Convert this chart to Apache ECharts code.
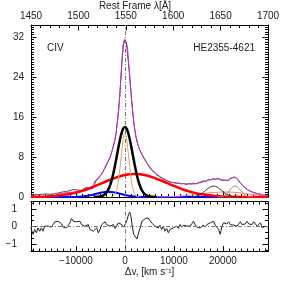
<!DOCTYPE html>
<html><head><meta charset="utf-8">
<script src="https://cdn.jsdelivr.net/npm/echarts@6/dist/echarts.min.js"></script>
<style>html,body{margin:0;padding:0;background:#fff}#c{width:283px;height:283px}</style>
</head><body><div id="c"></div>
<script>
// ---- axis constants ----
const C_KMS = 299792.458, LAM0 = 1549.06;
const LAM_MIN = 1450, LAM_MAX = 1700;
const V_MIN = C_KMS * (LAM_MIN - LAM0) / LAM0;
const V_MAX = C_KMS * (LAM_MAX - LAM0) / LAM0;
const FLUX_MAX = 34.4;
const RES_LIM = 1.43;

// ---- tick labels ----
const velTicks = [-10000, 0, 10000, 20000];
const fluxTicks = [0, 8, 16, 24, 32];
const resTicks = [-1, 0, 1];
const lamTicks = [1450, 1500, 1550, 1600, 1650, 1700];

// ---- data: [velocity km/s, value] ----
const specData = [[-19171,0.35],[-18800,0.2],[-18400,0.45],[-18000,0.3],[-17600,0.5],[-17200,0.35],[-16800,0.55],[-16400,0.4],[-16000,0.6],[-15600,0.45],[-15200,0.55],[-14800,0.4],[-14400,0.65],[-14000,0.55],[-13600,0.8],[-13200,0.7],[-12800,1.0],[-12400,0.85],[-12000,1.1],[-11600,0.9],[-11200,1.3],[-10800,1.1],[-10400,1.5],[-10000,1.2],[-9600,1.4],[-9200,1.7],[-8800,1.3],[-8400,1.6],[-8000,1.9],[-7600,2.3],[-7300,1.8],[-7000,2.0],[-6600,1.7],[-6200,2.6],[-5800,3.4],[-5400,3.8],[-5000,4.3],[-4600,4.9],[-4200,5.6],[-3800,6.5],[-3400,7.2],[-3000,8.1],[-2600,9.3],[-2200,10.8],[-1800,12.8],[-1500,15.5],[-1200,18.5],[-900,22.5],[-600,27.0],[-300,30.5],[0,31.4],[300,30.8],[600,28.0],[900,25.0],[1200,21.5],[1500,18.0],[1800,15.0],[2200,12.2],[2600,10.6],[3000,9.5],[3500,8.5],[4000,7.5],[4500,6.8],[5000,6.0],[5500,5.3],[6000,4.9],[6500,4.4],[7000,4.1],[7500,3.8],[8000,3.5],[8500,3.3],[9000,3.1],[9500,2.9],[10000,2.9],[10500,2.7],[11000,2.8],[11500,2.6],[12000,2.7],[12500,2.5],[13000,2.7],[13500,2.6],[14000,2.8],[14500,2.6],[15000,2.9],[15500,3.0],[16000,3.2],[16500,3.1],[17000,3.5],[17500,3.4],[18000,3.7],[18500,3.5],[19000,3.8],[19500,3.4],[20000,3.3],[20500,3.4],[21000,3.3],[21500,3.7],[22000,3.9],[22500,4.0],[23000,3.6],[23500,2.9],[24000,2.3],[24500,1.9],[25000,1.5],[25500,1.2],[26000,1.0],[26500,0.8],[27000,0.7],[27500,0.6],[28000,0.4],[28500,0.35],[29000,0.3],[29212,0.2]];

const modelData = [[-13700,0.6],[-13000,0.7],[-12000,0.85],[-11000,0.95],[-10000,1.05],[-9000,1.2],[-8000,1.35],[-7000,1.6],[-6300,1.9],[-6250,3.0],[-5500,3.6],[-4800,4.5],[-4400,5.2],[-3700,6.5],[-3000,8.0],[-2500,9.6],[-2000,11.5],[-1600,14.3],[-1300,17.0],[-1100,19.5],[-850,23.3],[-600,27.5],[-400,30.2],[-200,31.3],[0,31.6],[200,31.2],[500,30.0],[800,26.5],[1070,23.0],[1350,19.5],[1650,16.5],[2000,13.6],[2450,11.3],[3000,9.4],[3800,8.0],[4500,6.9],[5000,6.1],[6000,5.0],[7000,4.2],[8000,3.6],[9200,3.05],[10500,2.8],[12000,2.65],[13500,2.6],[14700,2.7],[15500,2.9],[16400,3.2],[17400,3.45],[18400,3.6],[19200,3.6],[20000,3.4],[20600,3.3],[21500,3.6],[22300,3.9],[22800,3.7],[23600,2.7],[24500,1.9],[25300,1.3],[26300,0.9],[27400,0.6],[28300,0.4],[29212,0.3]];

const broadBlackData = [[-6400,0],[-5600,0.03],[-4800,0.16],[-4400,0.32],[-4000,0.61],[-3600,1.11],[-3200,1.89],[-2800,3.03],[-2400,4.55],[-2000,6.41],[-1600,8.49],[-1200,10.57],[-800,12.36],[-400,13.57],[0,14.0],[400,13.57],[800,12.36],[1200,10.57],[1600,8.49],[2000,6.41],[2400,4.55],[2800,3.03],[3200,1.89],[3600,1.11],[4000,0.61],[4400,0.32],[4800,0.16],[5600,0.03],[6400,0]];

const narrowData = [[-3200,0],[-2800,0.03],[-2400,0.14],[-2200,0.29],[-2000,0.56],[-1800,1.01],[-1600,1.72],[-1400,2.75],[-1200,4.13],[-1000,5.82],[-800,7.70],[-600,9.59],[-400,11.21],[-200,12.31],[0,12.7],[200,12.31],[400,11.21],[600,9.59],[800,7.70],[1000,5.82],[1200,4.13],[1400,2.75],[1600,1.72],[1800,1.01],[2000,0.56],[2200,0.29],[2400,0.14],[2800,0.03],[3200,0]];

const redData = [[-19171,0.03],[-17000,0.07],[-16000,0.11],[-15000,0.17],[-14000,0.24],[-13000,0.35],[-12000,0.48],[-11000,0.66],[-10000,0.88],[-9000,1.15],[-8000,1.46],[-7000,1.82],[-6000,2.21],[-5000,2.62],[-4000,3.05],[-3000,3.45],[-2000,3.83],[-1000,4.15],[0,4.39],[1000,4.55],[2000,4.6],[3000,4.55],[4000,4.39],[5000,4.15],[6000,3.83],[7000,3.45],[8000,3.05],[9000,2.62],[10000,2.21],[11000,1.82],[12000,1.46],[13000,1.15],[14000,0.88],[15000,0.66],[16000,0.48],[17000,0.35],[18000,0.24],[19000,0.17],[20000,0.11],[21000,0.07],[22000,0.05],[24000,0.02],[26000,0.01],[29212,0]];

const blueData = [[-19171,0],[-12400,0],[-11400,0.01],[-10400,0.02],[-9400,0.06],[-8400,0.14],[-7400,0.29],[-6400,0.51],[-5400,0.76],[-4400,0.97],[-3400,1.05],[-2400,0.97],[-1400,0.76],[-400,0.51],[600,0.29],[1600,0.14],[2600,0.06],[3600,0.02],[4600,0.01],[5600,0],[29212,0]];

const heiiData = [[13300,0],[14100,0.1],[14500,0.17],[14900,0.30],[15300,0.48],[15700,0.71],[16100,1.01],[16500,1.33],[16900,1.66],[17300,1.94],[17700,2.13],[18100,2.2],[18500,2.13],[18900,1.94],[19300,1.66],[19700,1.33],[20100,1.01],[20500,0.71],[20900,0.48],[21300,0.30],[21700,0.17],[22100,0.10],[22900,0.02],[23700,0]];

const oliveData = [[18900,0.01],[19500,0.05],[19800,0.11],[20100,0.20],[20400,0.36],[20700,0.58],[21000,0.87],[21300,1.21],[21600,1.58],[21900,1.90],[22200,2.12],[22500,2.2],[22800,2.12],[23100,1.90],[23400,1.58],[23700,1.21],[24000,0.87],[24300,0.58],[24600,0.36],[24900,0.20],[25200,0.11],[25500,0.05],[26100,0.01]];

const pinkData = [[6500,0.02],[8500,0.06],[10500,0.14],[11500,0.2],[12500,0.28],[13500,0.38],[14500,0.49],[15500,0.61],[16500,0.73],[17500,0.84],[18500,0.92],[19500,0.98],[20500,1.0],[21500,0.98],[22500,0.92],[23500,0.84],[24500,0.73],[25500,0.61],[26500,0.49],[27500,0.38],[28500,0.28],[29212,0.22]];

const residData = [[-19171,0.02],[-19101,-0.17],[-18759,-0.45],[-18417,-0.17],[-18075,-0.36],[-17733,-0.08],[-17391,-0.27],[-17049,-0.08],[-16707,-0.27],[-16365,0.02],[-16023,-0.08],[-15681,0.02],[-15339,0.06],[-14997,-0.04],[-14655,0.11],[-14313,0.27],[-13971,0.19],[-13629,0.30],[-13287,0.21],[-12945,0.15],[-12603,-0.04],[-12261,0.06],[-11919,-0.08],[-11577,0.02],[-11235,0.21],[-10893,0.45],[-10551,0.30],[-10209,0.40],[-9867,0.27],[-9525,0.21],[-9183,0.30],[-8841,0.11],[-8499,0.15],[-8157,0.02],[-7815,-0.08],[-7473,0.11],[-7131,-0.17],[-6789,-0.08],[-6447,-0.27],[-6105,-0.17],[-5763,-0.08],[-5421,-0.36],[-5079,-0.17],[-4737,0.11],[-4395,0.15],[-4053,0.27],[-3711,0.11],[-3369,0.21],[-3027,0.02],[-2685,0.02],[-2343,0.11],[-2001,-0.11],[-1659,-0.04],[-1317,0.21],[-975,0.30],[-633,0.11],[-291,-0.04],[51,0.11],[400,0.35],[750,0.7],[1000,0.82],[1250,0.55],[1500,0.0],[1800,-0.45],[2100,-0.55],[2450,-0.72],[2800,-0.36],[3130,-0.08],[3470,0.30],[3810,0.40],[4150,0.45],[4500,0.42],[4758,0.49],[5100,0.40],[5442,0.21],[5784,0.27],[6126,0.02],[6468,0.11],[6810,-0.08],[7152,0.08],[7494,-0.17],[7836,0.02],[8178,-0.27],[8520,-0.11],[8862,-0.36],[9204,-0.17],[9546,-0.27],[9888,-0.08],[10230,-0.17],[10572,0.02],[10914,-0.11],[11256,0.11],[11598,-0.04],[11940,0.08],[12282,0.15],[12624,0.02],[12966,0.11],[13308,0.02],[13650,0.15],[13992,0.30],[14334,0.11],[14676,-0.04],[15018,0.02],[15360,-0.08],[15702,-0.04],[16044,0.08],[16386,-0.04],[16728,0.11],[17070,0.02],[17412,0.21],[17754,0.11],[18096,0.30],[18438,0.08],[18780,-0.04],[19122,-0.17],[19464,-0.45],[19806,0.02],[20148,0.21],[20490,0.30],[20832,0.15],[21174,0.27],[21516,0.11],[21858,0.21],[22200,0.08],[22542,0.15],[22884,0.02],[23226,0.11],[23568,0.27],[23910,0.11],[24252,0.02],[24594,0.15],[24936,0.30],[25278,0.15],[25620,0.21],[25962,0.11],[26304,0.27],[26646,0.15],[26988,0.02],[27330,0.11],[27672,0.21],[28014,-0.08],[28356,-0.17],[28698,0.02],[29040,-0.08],[29212,-0.04]];

// ---- tick position helpers (axis decoration only) ----
function steps(a, b, s, skip) {
  const out = [];
  for (let v = Math.ceil(a / s - 1e-9) * s; v <= b + 1e-9; v += s) {
    const r = Math.round(v * 1000) / 1000;
    if (!skip || skip.indexOf(r) < 0) out.push(r);
  }
  return out;
}
const velMinor = steps(V_MIN, V_MAX, 1250, velTicks);
const resMinor = steps(-RES_LIM, RES_LIM, 1 / 3, resTicks);

const FONT = 'Liberation Sans';
const TXT = '#222';
const AX = '#000';
const MAJ = 5.5, MIN = 3;
const minus = v => String(v).replace('-', '\u2212');

function vAxis(grid, pos, opts) {
  return Object.assign({
    gridIndex: grid, type: 'value', position: pos, min: V_MIN, max: V_MAX,
    axisLine: { show: true, onZero: false, lineStyle: { color: AX, width: 1 } },
    axisTick: { show: true, inside: true, length: MAJ, customValues: velTicks, lineStyle: { color: AX } },
    axisLabel: { show: false }, splitLine: { show: false }
  }, opts || {});
}
function vMinorAxis(grid, pos) {
  return {
    gridIndex: grid, type: 'value', position: pos, min: V_MIN, max: V_MAX,
    axisLine: { show: false, onZero: false },
    axisTick: { show: true, inside: true, length: MIN, customValues: velMinor, lineStyle: { color: AX } },
    axisLabel: { show: false }, splitLine: { show: false }
  };
}
function fluxAxis(pos, labels) {
  return {
    gridIndex: 0, type: 'value', position: pos, min: 0, max: FLUX_MAX, interval: 8,
    axisLine: { show: true, onZero: false, lineStyle: { color: AX, width: 1 } },
    axisTick: { show: true, inside: true, length: MAJ, lineStyle: { color: AX } },
    minorTick: { show: true, splitNumber: 16, length: MIN, lineStyle: { color: AX } },
    axisLabel: { show: labels, showMaxLabel: false, fontFamily: FONT, fontSize: 10, color: TXT, margin: 7 },
    splitLine: { show: false }, minorSplitLine: { show: false }
  };
}
function resAxis(pos, labels) {
  return {
    gridIndex: 1, type: 'value', position: pos, min: -RES_LIM, max: RES_LIM,
    axisLine: { show: true, onZero: false, lineStyle: { color: AX, width: 1 } },
    axisTick: { show: true, inside: true, length: MAJ, customValues: resTicks, lineStyle: { color: AX } },
    axisLabel: { show: labels, customValues: resTicks, formatter: minus, fontFamily: FONT, fontSize: 10, color: TXT, margin: 14 },
    splitLine: { show: false }
  };
}
function resMinorAxis(pos) {
  return {
    gridIndex: 1, type: 'value', position: pos, min: -RES_LIM, max: RES_LIM,
    axisLine: { show: false, onZero: false },
    axisTick: { show: true, inside: true, length: MIN, customValues: resMinor, lineStyle: { color: AX } },
    axisLabel: { show: false }, splitLine: { show: false }
  };
}

function comp(data, color, width, z) {
  return { type: 'line', xAxisIndex: 0, yAxisIndex: 0, data: data, showSymbol: false, symbol: 'none',
    smooth: 0.3, lineStyle: { color: color, width: width }, z: z, silent: true, animation: false };
}

const option = {
  animation: false,
  grid: [
    { left: 31, top: 25, width: 237, height: 172 },
    { left: 31, top: 201.5, width: 237, height: 50 }
  ],
  xAxis: [
    vAxis(0, 'bottom'),
    vMinorAxis(0, 'bottom'),
    {
      gridIndex: 0, type: 'value', position: 'top', min: LAM_MIN, max: LAM_MAX, interval: 50,
      axisLine: { show: true, onZero: false, lineStyle: { color: AX, width: 1 } },
      axisTick: { show: true, inside: true, length: MAJ, lineStyle: { color: AX } },
      minorTick: { show: true, splitNumber: 5, length: MIN, lineStyle: { color: AX } },
      axisLabel: { show: true, formatter: v => String(v), fontFamily: FONT, fontSize: 10, color: TXT, margin: 4 },
      splitLine: { show: false }, minorSplitLine: { show: false }
    },
    vAxis(1, 'bottom', {
      axisLabel: { show: true, customValues: velTicks, formatter: minus, fontFamily: FONT, fontSize: 10, color: TXT, margin: 5 }
    }),
    vMinorAxis(1, 'bottom'),
    vAxis(1, 'top'),
    vMinorAxis(1, 'top')
  ],
  yAxis: [
    fluxAxis('left', true),
    fluxAxis('right', false),
    resAxis('left', true),
    resMinorAxis('left'),
    resAxis('right', false),
    resMinorAxis('right')
  ],
  graphic: [
    { type: 'text', x: 47, y: 48, style: { text: 'CIV', font: '10px "Liberation Sans"', fill: TXT, verticalAlign: 'middle' } },
    { type: 'text', x: 255, y: 48, style: { text: 'HE2355-4621', font: '10px "Liberation Sans"', fill: TXT, align: 'right', verticalAlign: 'middle' } },
    { type: 'text', x: 135, y: 6, style: { text: 'Rest Frame \u03bb[\u00c5]', font: '10px "Liberation Sans"', fill: TXT, align: 'center', verticalAlign: 'middle' } },
    { type: 'text', x: 149.5, y: 272, style: { text: '\u0394v, [km s\u207b\u00b9]', font: '10px "Liberation Sans"', fill: TXT, align: 'center', verticalAlign: 'middle' } }
  ],
  series: [
    {
      type: 'line', xAxisIndex: 0, yAxisIndex: 0, data: specData, showSymbol: false, symbol: 'none',
      lineStyle: { color: '#4a4a4a', width: 1 }, z: 2, silent: true,
      markLine: { symbol: 'none', silent: true, label: { show: false },
        lineStyle: { color: '#777', width: 1, type: [4, 2, 1, 2] }, data: [{ xAxis: 0 }] }
    },
    comp(modelData, '#c830c8', 1, 3),
    comp(blueData, '#0000ff', 2, 4),
    comp(pinkData, '#ff7878', 1, 4),
    comp(redData, '#ff0000', 2.5, 5),
    comp(narrowData, '#d2a868', 1, 6),
    comp(broadBlackData, '#000000', 2.5, 7),
    comp(heiiData, '#333333', 1, 6),
    comp(oliveData, '#8c9a58', 1, 6),
    {
      type: 'line', xAxisIndex: 3, yAxisIndex: 2, data: residData, showSymbol: false, symbol: 'none',
      lineStyle: { color: '#222', width: 1 }, z: 3, silent: true,
      markLine: { symbol: 'none', silent: true, label: { show: false },
        lineStyle: { color: '#777', width: 1, type: [4, 2, 1, 2] }, data: [{ xAxis: 0 }, { yAxis: 0 }] }
    }
  ]
};
const chart = echarts.init(document.getElementById('c'), null, { renderer: 'canvas' });
chart.setOption(option);
</script>
</body></html>
